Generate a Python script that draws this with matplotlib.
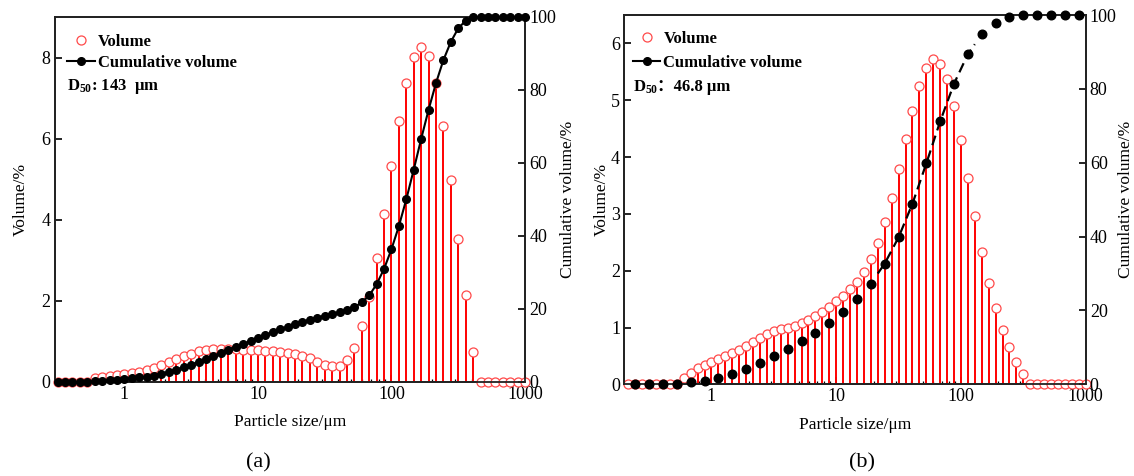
import matplotlib
matplotlib.use('Agg')
import matplotlib.pyplot as plt
from matplotlib.lines import Line2D
from matplotlib.ticker import LogLocator, NullFormatter

plt.rcParams['font.family'] = ['Liberation Serif', 'DejaVu Serif']
plt.rcParams['mathtext.fontset'] = 'custom'
plt.rcParams['mathtext.rm'] = 'Liberation Serif'
plt.rcParams['mathtext.bf'] = 'Liberation Serif:bold'
plt.rcParams['mathtext.it'] = 'Liberation Serif:italic'

# Particle size bins (um), shared by both analyses
size_bins = [0.2154, 0.2448, 0.2783, 0.3162, 0.3594, 0.4084, 0.4642, 0.5275, 0.5995, 0.6813, 0.7743, 0.8799,
             1.0, 1.136, 1.292, 1.468, 1.668, 1.896, 2.154, 2.448, 2.783, 3.162, 3.594, 4.084, 4.642, 5.275, 5.995, 6.813, 7.743, 8.799,
             10.0, 11.36, 12.92, 14.68, 16.68, 18.96, 21.54, 24.48, 27.83, 31.62, 35.94, 40.84, 46.42, 52.75, 59.95, 68.13, 77.43, 87.99,
             100.0, 113.6, 129.2, 146.8, 166.8, 189.6, 215.4, 244.8, 278.3, 316.2, 359.4, 408.4, 464.2, 527.5, 599.5, 681.3, 774.3, 879.9,
             1000.0]

# (a)
sizes_a = size_bins[3:]
vol_a = [0, 0, 0, 0, 0, 0.09, 0.13, 0.15, 0.17, 0.19,
         0.21, 0.25, 0.29, 0.35, 0.42, 0.50, 0.57, 0.65, 0.70, 0.76,
         0.80, 0.82, 0.82, 0.81, 0.81, 0.80, 0.79, 0.78, 0.77, 0.76,
         0.74, 0.72, 0.69, 0.65, 0.58, 0.50, 0.43, 0.39, 0.40, 0.54,
         0.85, 1.37, 2.09, 3.05, 4.15, 5.32, 6.44, 7.37, 8.01, 8.25,
         8.03, 7.37, 6.32, 4.99, 3.53, 2.15, 0.75, 0, 0, 0,
         0, 0, 0, 0]
cum_a = [0, 0, 0, 0, 0, 0.2, 0.35, 0.5, 0.65, 0.8,
         1.0, 1.28, 1.46, 1.74, 2.28, 2.74, 3.38, 4.02, 4.75, 5.48,
         6.3, 7.06, 7.9, 8.9, 9.6, 10.4, 11.2, 12.1, 12.9, 13.6,
         14.4, 15.1, 15.8, 16.4, 17.1, 17.6, 18.2, 18.6, 19.1, 19.6,
         20.5, 21.8, 23.7, 26.8, 31.0, 36.4, 42.7, 50.1, 58.2, 66.6,
         74.6, 81.9, 88.2, 93.2, 96.9, 99.0, 100, 100, 100, 100,
         100, 100, 100, 100]
d50_a = '143  μm'

# (b)
sizes_b = size_bins
vol_b = [0, 0, 0, 0, 0, 0, 0, 0,
         0.12, 0.20, 0.28, 0.34, 0.39, 0.45, 0.50, 0.55, 0.61, 0.67,
         0.74, 0.82, 0.88, 0.93, 0.97, 1.00, 1.03, 1.08, 1.13, 1.20,
         1.28, 1.36, 1.46, 1.56, 1.67, 1.80, 1.97, 2.20, 2.48, 2.85,
         3.28, 3.79, 4.31, 4.81, 5.25, 5.57, 5.72, 5.64, 5.38, 4.90,
         4.30, 3.64, 2.96, 2.33, 1.79, 1.34, 0.96, 0.65, 0.39, 0.19,
         0, 0, 0, 0, 0, 0, 0, 0, 0]
cum_sizes_b = size_bins[1::2]
cum_b = [0, 0, 0, 0, 0.5, 1.0, 1.8, 2.8, 4.1, 5.7, 7.6, 9.6, 11.7, 14.0, 16.7, 19.7, 23.1,
         27.3, 32.7, 39.8, 48.9, 59.8, 71.2, 81.4, 89.4, 94.8, 97.9, 99.4, 100, 100, 100, 100, 100]
d50_b = '46.8 μm'
dash_start, dash_end = 17, 25   # dashed segment of cumulative curve (b), by dot index

RED = '#ff0000'
CIRC = '#ff4a4a'
FS_TICK = 13
FS_LAB = 12.5
FS_LEG = 12

fig = plt.figure(figsize=(11.34, 4.76), dpi=100)
axA = fig.add_axes([0.0481, 0.1975, 0.4149, 0.7668])
axB = fig.add_axes([0.5505, 0.1926, 0.4069, 0.7758])


def style_axes(ax, ax2, xlim, ylim, yticks, lpad_left, lpad_right):
    ax.set_xscale('log')
    ax.set_xlim(*xlim)
    ax.set_ylim(*ylim)
    ax.set_xticks([1, 10, 100, 1000])
    ax.set_xticklabels(['1', '10', '100', '1000'])
    ax.xaxis.set_minor_locator(LogLocator(base=10, subs=range(2, 10), numticks=20))
    ax.xaxis.set_minor_formatter(NullFormatter())
    ax.set_yticks(yticks)
    ax2.set_ylim(0, 100)
    ax2.set_yticks([0, 20, 40, 60, 80, 100])
    for a in (ax, ax2):
        a.tick_params(which='major', direction='in', length=5, width=1.2, labelsize=FS_TICK, pad=3)
        a.tick_params(which='minor', direction='in', length=2.5, width=0.9)
        for s in a.spines.values():
            s.set_linewidth(1.3)
            s.set_color('#222222')
    ax.tick_params(axis='y', which='both', right=False)
    ax2.tick_params(axis='y', which='both', left=False)
    ax.set_xlabel('Particle size/μm', fontsize=FS_LAB, labelpad=8)
    ax.set_ylabel('Volume/%', fontsize=FS_LAB, labelpad=lpad_left)
    ax2.set_ylabel('Cumulative volume/%', fontsize=FS_LAB, labelpad=lpad_right)


def legend(ax2, bbox, hlen, spacing):
    h = [Line2D([], [], ls='none', marker='o', mfc='white', mec=CIRC, mew=0.9, ms=6.5),
         Line2D([], [], color='black', lw=1.5, marker='o', ms=5.5)]
    return ax2.legend(h, ['Volume', 'Cumulative volume'], loc='upper left', bbox_to_anchor=bbox,
                      frameon=False, prop={'weight': 'bold', 'size': FS_LEG},
                      handlelength=hlen, handletextpad=0.2, labelspacing=spacing,
                      borderaxespad=0, borderpad=0)


# ---------- (a)
axA.vlines(sizes_a, 0, vol_a, color=RED, lw=1.4, zorder=2)
axA.plot(sizes_a, vol_a, ls='none', marker='o', mfc='white', mec=CIRC, mew=0.9, ms=6.5,
         zorder=3, clip_on=False)
axA2 = axA.twinx()
axA2.plot(sizes_a, cum_a, color='black', lw=1.5, marker='o', ms=5.5, zorder=4, clip_on=False)
style_axes(axA, axA2, (0.3, 1000), (0, 9), [0, 2, 4, 6, 8], 9, 3)
legend(axA2, (0.026, 0.953), 1.68, 0.3)
axA2.text(0.026, 0.799, r'$\mathbf{D_{50}}$: ' + d50_a, transform=axA2.transAxes,
          fontsize=FS_LEG, fontweight='bold', va='baseline', ha='left')

# ---------- (b)
axB.vlines(sizes_b, 0, vol_b, color=RED, lw=1.4, zorder=2)
axB.plot(sizes_b, vol_b, ls='none', marker='o', mfc='white', mec=CIRC, mew=0.9, ms=6.5,
         zorder=3, clip_on=False)
axB2 = axB.twinx()
# dashed part of the cumulative curve, from between two dots to between two dots
xs = list(cum_sizes_b[dash_start:dash_end + 1])
ys = list(cum_b[dash_start:dash_end + 1])
xs[0] = (cum_sizes_b[dash_start] * cum_sizes_b[dash_start + 1]) ** 0.5
ys[0] = (cum_b[dash_start] + cum_b[dash_start + 1]) / 2
xs[-1] = (cum_sizes_b[dash_end - 1] * cum_sizes_b[dash_end]) ** 0.5
ys[-1] = (cum_b[dash_end - 1] + cum_b[dash_end]) / 2
axB2.plot(xs, ys, color='black', lw=1.6, dashes=(4.5, 2.5), zorder=3)
axB2.plot(cum_sizes_b, cum_b, ls='none', color='black', marker='o', ms=6.2, zorder=4, clip_on=False)
style_axes(axB, axB2, (0.2, 1000), (0, 6.5), [0, 1, 2, 3, 4, 5, 6], 1, 1.2)
legend(axB2, (0.019, 0.957), 1.62, 0.48)
axB2.text(0.019, 0.793, r'$\mathbf{D_{50}}$', transform=axB2.transAxes,
          fontsize=FS_LEG, fontweight='bold', va='baseline', ha='left')
axB2.text(0.071, 0.793, '：' + d50_b, transform=axB2.transAxes,
          fontsize=FS_LEG, fontweight='bold', va='baseline', ha='left',
          family=['Liberation Serif', 'Noto Sans CJK SC'])

fig.text(258 / 1134, 1 - 463 / 476, '(a)', ha='center', va='center', fontsize=16)
fig.text(862 / 1134, 1 - 463 / 476, '(b)', ha='center', va='center', fontsize=16)

fig.savefig('out.png', dpi=100)
